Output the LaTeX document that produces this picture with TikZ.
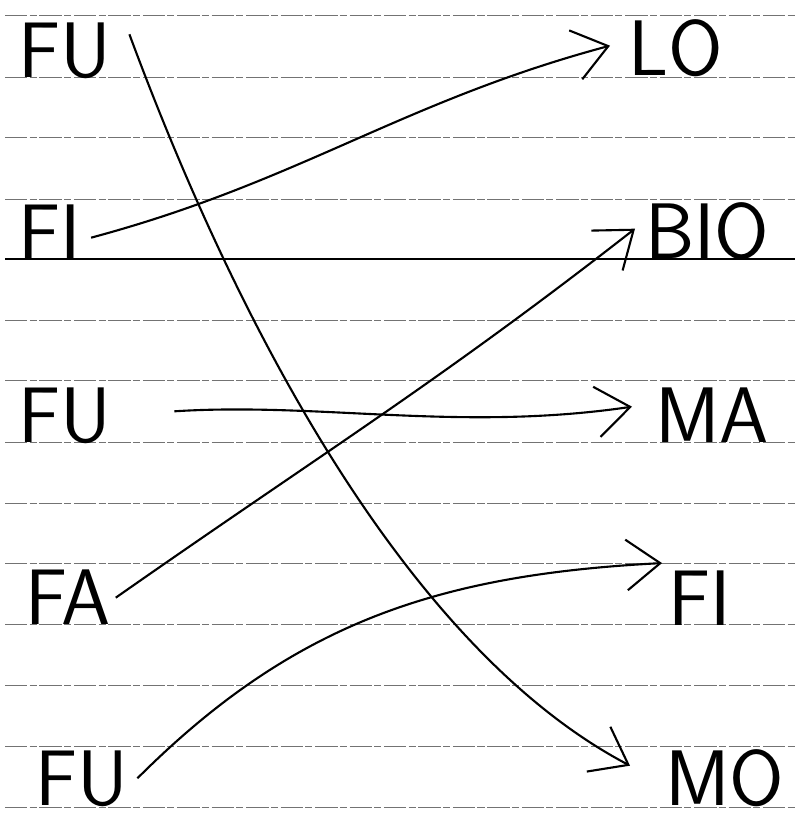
\documentclass[tikz,border=0pt]{standalone}
\usetikzlibrary{arrows.meta}

\begin{document}
\begin{tikzpicture}[
    x=0.025cm, y=-0.025cm,
    word/.style={
        font=\sffamily\fontsize{56}{56}\selectfont,
        inner sep=0pt,
        anchor=base west
    },
    ruling/.style={
        black!55,
        line width=0.7pt,
        dash pattern=on 16pt off 1.5pt on 5pt off 2pt
    },
    margin/.style={
        black,
        line width=1.2pt
    },
    link/.style={
        line width=1.5pt,
        -{Straight Barb[length=24pt, width=36pt]}
    }
]

    \useasboundingbox (0,0) rectangle (795,821);

    % Ruled paper
    \foreach \y in {15,77,137,199,320,380,442,503,563,624,685,746,807}
        \draw[ruling] (5,\y) -- (795,\y);
    \draw[margin] (5,259) -- (795,259);

    % Left column
    \foreach \nm/\txt/\x/\y in {fuA/FU/18/77, fiA/FI/18/259, fuB/FU/18/442,
                                 fa/FA/25/624, fuC/FU/35/805}
        \node[word] (\nm) at (\x,\y) {\txt};

    % Right column
    \foreach \nm/\txt/\x/\y in {lo/LO/628/75, bio/BIO/645/258, ma/MA/655/442,
                                 fiB/FI/668/625, mo/MO/665/805}
        \node[word] (\nm) at (\x,\y) {\txt};

    % Connections
    \draw[link] ([shift={(18,-16)}]fuA.east)
        .. controls (240,333) and (410,650) .. ([shift={(-35,-12)}]mo.west);

    \draw[link] ([shift={(10,6)}]fiA.east)
        to[out=15, in=195] ([shift={(-18,-2)}]lo.west);

    \draw[link] ([shift={(63,-4)}]fuB.east)
        .. controls (320,402) and (460,432) .. ([shift={(-23,-8)}]ma.west);

    \draw[link] ([shift={(5,1)}]fa.east)
        to[out=35, in=218] ([shift={(-10,-2)}]bio.west);

    \draw[link] ([shift={(9,0)}]fuC.east)
        to[out=45, in=183] ([shift={(-6,-7)}]fiB.north west);

\end{tikzpicture}
\end{document}
